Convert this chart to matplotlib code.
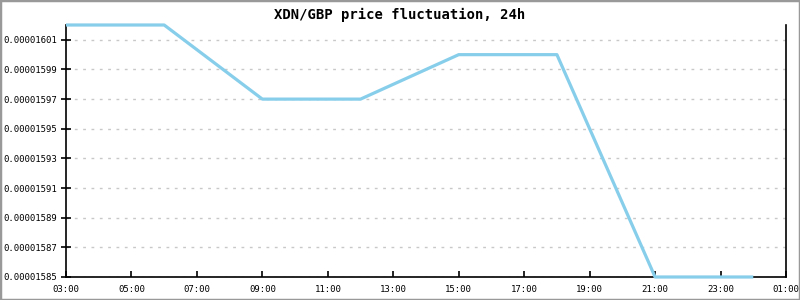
import matplotlib
matplotlib.use("Agg")
import matplotlib.pyplot as plt
from matplotlib.patches import Rectangle

hours = [3, 6, 9, 12, 15, 18, 21, 24]
prices = [0.00001602, 0.00001602, 0.00001597, 0.00001597, 0.00001600, 0.00001600, 0.00001585, 0.00001585]
x_ticks = [3, 5, 7, 9, 11, 13, 15, 17, 19, 21, 23, 25]
x_labels = ["03:00", "05:00", "07:00", "09:00", "11:00", "13:00", "15:00", "17:00", "19:00", "21:00", "23:00", "01:00"]
y_ticks = [0.00001585, 0.00001587, 0.00001589, 0.00001591, 0.00001593, 0.00001595, 0.00001597, 0.00001599, 0.00001601]
y_labels = ["%.8f" % v for v in y_ticks]
title = "XDN/GBP price fluctuation, 24h"

plt.rcParams['font.family'] = ['DejaVu Sans Mono']

fig = plt.figure(figsize=(8, 3), dpi=100)
fig.patch.set_facecolor('white')
ax = fig.add_axes([66/800, 1 - 277/300, 720/800, 252/300])

ax.plot(hours, prices, color='#87CEEB', linewidth=2.3, solid_capstyle='butt', zorder=3, clip_on=False)

ax.set_xlim(3, 25)
ax.set_ylim(0.00001585, 0.00001602)
ax.set_xticks(x_ticks)
ax.set_xticklabels(x_labels, fontsize=6.5)
ax.set_yticks(y_ticks)
ax.set_yticklabels(y_labels, fontsize=6.5)

for s in ['left', 'bottom', 'right']:
    ax.spines[s].set_color('black')
    ax.spines[s].set_linewidth(1.2)
    ax.spines[s].set_zorder(2)
ax.spines['top'].set_visible(False)

ax.tick_params(axis='y', direction='inout', length=7, width=1.2, pad=3)
ax.tick_params(axis='x', direction='in', length=4, width=1.2, pad=6)

ax.yaxis.grid(True, color='#c8c8c8', linestyle=(0, (2, 4)), linewidth=1)
ax.set_axisbelow(True)

fig.text(0.5, 1 - 15/300, title, ha='center', va='center', fontsize=10, fontweight='bold')

fig.patches.append(Rectangle((0, 0), 1, 1, transform=fig.transFigure, fill=False,
                             edgecolor='#999999', linewidth=2.5))

fig.savefig('out.png', dpi=100)
